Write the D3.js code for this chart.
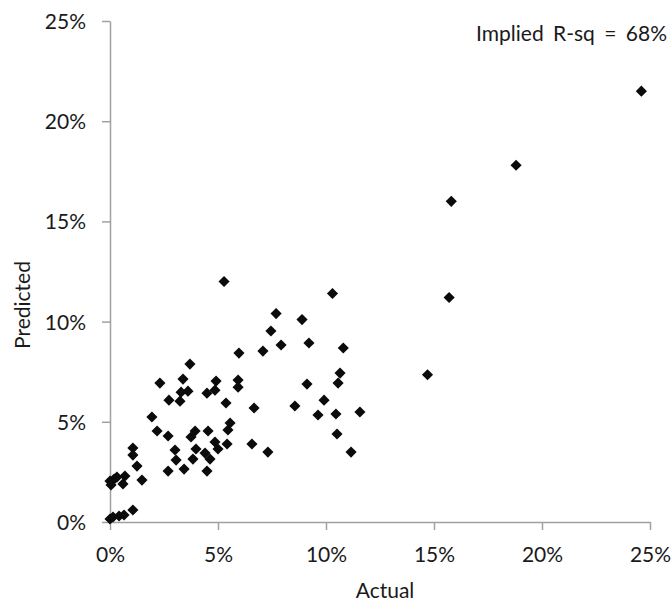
<!DOCTYPE html>
<html>
<head>
<meta charset="utf-8">
<script src="https://cdn.jsdelivr.net/npm/d3@7"></script>
<style>
  body { margin: 0; background: #fff; }
  text { font-family: Lato, "Open Sans", sans-serif; fill: #1a1a1a; }
</style>
</head>
<body>
<div id="chart"></div>
<script>
// values in percent
const actual = [
  24.6, 18.8, 15.8, 15.7, 14.7, 5.28, 10.3, 7.69, 8.89, 7.45,
  7.92, 9.21, 10.8, 5.97, 7.08, 3.70, 2.31, 3.38, 3.61, 3.29,
  4.91, 4.86, 4.49, 5.93, 5.93, 2.73, 3.24, 5.37, 6.67, 10.65,
  10.56, 9.12, 8.56, 9.91, 9.63, 10.46, 11.57, 10.51, 11.16, 1.94,
  2.18, 2.69, 3.75, 3.94, 4.54, 5.56, 5.46, 4.86, 5.42, 6.57,
  7.31, 3.98, 4.40, 5.00, 3.01, 3.06, 3.84, 4.63, 3.43, 2.69,
  4.49, 1.06, 1.06, 1.25, 1.48, 0.00, 0.19, 0.32, 0.69, 0.60,
  0.05, 1.06, 0.00, 0.14, 0.42, 0.65
];
const predicted = [
  21.5, 17.8, 16.0, 11.2, 7.35, 12.0, 11.4, 10.4, 10.1, 9.53,
  8.83, 8.93, 8.68, 8.43, 8.53, 7.88, 6.93, 7.13, 6.53, 6.48,
  7.03, 6.58, 6.43, 7.08, 6.73, 6.08, 6.03, 5.94, 5.69, 7.43,
  6.93, 6.88, 5.79, 6.08, 5.34, 5.39, 5.49, 4.39, 3.49, 5.24,
  4.54, 4.29, 4.24, 4.54, 4.54, 4.94, 4.59, 3.99, 3.89, 3.89,
  3.49, 3.64, 3.44, 3.64, 3.59, 3.09, 3.14, 3.14, 2.64, 2.54,
  2.54, 3.69, 3.34, 2.79, 2.09, 2.04, 2.14, 2.24, 2.29, 1.90,
  1.85, 0.60, 0.15, 0.25, 0.30, 0.35
];
const ticks = [0, 5, 10, 15, 20, 25];
const rsqLabel = "Implied R-sq = 68%";

const width = 671;
const height = 603;
const margin = { top: 21, right: 21, bottom: 81, left: 110 };

const svg = d3.select("#chart").append("svg")
  .attr("width", width).attr("height", height);

const x = d3.scaleLinear().domain([0, 25]).range([margin.left, width - margin.right]);
const y = d3.scaleLinear().domain([0, 25]).range([height - margin.bottom, margin.top]);

const xAxis = svg.append("g")
  .attr("transform", `translate(0,${height - margin.bottom})`)
  .call(d3.axisBottom(x).tickValues(ticks).tickSize(8).tickSizeOuter(0).tickFormat(d => d + "%"));
const yAxis = svg.append("g")
  .attr("transform", `translate(${margin.left},0)`)
  .call(d3.axisLeft(y).tickValues(ticks).tickSize(8).tickSizeOuter(0).tickFormat(d => d + "%"));

[xAxis, yAxis].forEach(g => {
  g.selectAll("path, line").attr("stroke", "#a0a0a0").attr("stroke-width", 1.5);
  g.selectAll("text").style("font-size", "21px").attr("fill", "#1a1a1a");
});
xAxis.selectAll("text").attr("dy", null).attr("y", 40);
yAxis.selectAll("text").attr("x", -24).attr("dy", "0.36em");

svg.append("g")
  .selectAll("path")
  .data(actual.map((a, i) => [a, predicted[i]]))
  .enter()
  .append("path")
  .attr("d", d3.symbol(d3.symbolSquare, 62))
  .attr("transform", d => `translate(${x(d[0])},${y(d[1])}) rotate(45)`)
  .attr("fill", "#0b0b0b");

svg.append("text")
  .attr("x", (x(0) + x(25)) / 2 + 5)
  .attr("y", 598)
  .attr("text-anchor", "middle")
  .style("font-size", "21px")
  .text("Actual");

svg.append("text")
  .attr("transform", "translate(30,305) rotate(-90)")
  .attr("text-anchor", "middle")
  .style("font-size", "21px")
  .text("Predicted");

svg.append("text")
  .attr("x", 667)
  .attr("y", 41)
  .attr("text-anchor", "end")
  .style("font-size", "21px")
  .style("word-spacing", "4px")
  .text(rsqLabel);
</script>
</body>
</html>
